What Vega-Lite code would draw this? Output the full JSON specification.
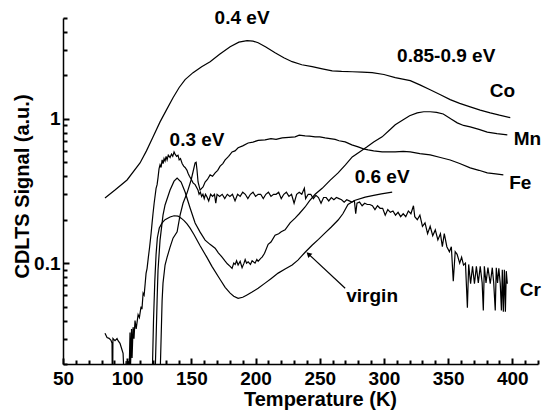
{
 "$schema": "https://vega.github.io/schema/vega-lite/v6.json",
 "width": 475,
 "height": 346,
 "autosize": {"type": "none"},
 "padding": {"left": 63, "top": 18, "right": 10, "bottom": 52},
 "config": {"view": {"stroke": null}, "font": "Liberation Sans"},
 "resolve": {"axis": {"x": "independent", "y": "independent"}},
 "datasets": {
  "curves": [
   {"series":"Co","T":82.7,"S":0.283},{"series":"Co","T":90.5,"S":0.321},{"series":"Co","T":99.9,"S":0.377},{"series":"Co","T":110,"S":0.495},{"series":"Co","T":115,"S":0.6},{"series":"Co","T":120.1,"S":0.75},{"series":"Co","T":125.6,"S":0.953},{"series":"Co","T":130.5,"S":1.15},{"series":"Co","T":135.7,"S":1.4},{"series":"Co","T":140.5,"S":1.65},{"series":"Co","T":145.1,"S":1.87},{"series":"Co","T":151.3,"S":2.09},{"series":"Co","T":158,"S":2.3},{"series":"Co","T":164.6,"S":2.49},{"series":"Co","T":172,"S":2.8},{"series":"Co","T":180.2,"S":3.16},{"series":"Co","T":187,"S":3.4},{"series":"Co","T":193.4,"S":3.48},{"series":"Co","T":198,"S":3.46},{"series":"Co","T":202,"S":3.37},{"series":"Co","T":208,"S":3.15},{"series":"Co","T":215.2,"S":2.87},{"series":"Co","T":222,"S":2.65},{"series":"Co","T":228.5,"S":2.49},{"series":"Co","T":236,"S":2.37},{"series":"Co","T":244.1,"S":2.3},{"series":"Co","T":252,"S":2.22},{"series":"Co","T":259.7,"S":2.15},{"series":"Co","T":267,"S":2.13},{"series":"Co","T":275.3,"S":2.12},{"series":"Co","T":283,"S":2.11},{"series":"Co","T":290.8,"S":2.09},{"series":"Co","T":300,"S":2.03},{"series":"Co","T":308.8,"S":1.93},{"series":"Co","T":320.5,"S":1.84},{"series":"Co","T":328,"S":1.72},{"series":"Co","T":336,"S":1.59},{"series":"Co","T":344,"S":1.47},{"series":"Co","T":351.6,"S":1.36},{"series":"Co","T":359,"S":1.28},{"series":"Co","T":367.2,"S":1.21},{"series":"Co","T":375,"S":1.15},{"series":"Co","T":382.8,"S":1.1},{"series":"Co","T":390,"S":1.06},{"series":"Co","T":398.4,"S":1.02},

   {"series":"Mn","T":121.7,"S":0.016},{"series":"Mn","T":123.3,"S":0.0553},{"series":"Mn","T":124.0,"S":0.089},{"series":"Mn","T":125.6,"S":0.1445},{"series":"Mn","T":127.9,"S":0.215},{"series":"Mn","T":129.5,"S":0.253},{"series":"Mn","T":133.4,"S":0.321},{"series":"Mn","T":136.5,"S":0.37},{"series":"Mn","T":138.9,"S":0.389},{"series":"Mn","T":142.0,"S":0.365},{"series":"Mn","T":145.1,"S":0.311},{"series":"Mn","T":149.0,"S":0.241},{"series":"Mn","T":152.9,"S":0.19},{"series":"Mn","T":156.8,"S":0.164},{"series":"Mn","T":160.7,"S":0.1445},{"series":"Mn","T":164.5,"S":0.135},{"series":"Mn","T":168.5,"S":0.127},{"series":"Mn","T":171,"S":0.118},{"series":"Mn","T":173.9,"S":0.11},{"series":"Mn","T":176,"S":0.104},{"series":"Mn","T":178,"S":0.099},{"series":"Mn","T":180.2,"S":0.095},{"series":"Mn","T":181.7,"S":0.092},{"series":"Mn","T":183,"S":0.1},{"series":"Mn","T":184.1,"S":0.098},{"series":"Mn","T":185.2,"S":0.104},{"series":"Mn","T":186.4,"S":0.097},{"series":"Mn","T":188,"S":0.103},{"series":"Mn","T":189.5,"S":0.093},{"series":"Mn","T":191,"S":0.1},{"series":"Mn","T":191.9,"S":0.106},{"series":"Mn","T":193,"S":0.1},{"series":"Mn","T":194.2,"S":0.102},{"series":"Mn","T":196,"S":0.098},{"series":"Mn","T":197.3,"S":0.104},{"series":"Mn","T":199.6,"S":0.1},{"series":"Mn","T":201,"S":0.106},{"series":"Mn","T":202,"S":0.103},{"series":"Mn","T":204,"S":0.108},{"series":"Mn","T":205.1,"S":0.11},{"series":"Mn","T":207,"S":0.117},{"series":"Mn","T":209.8,"S":0.135},{"series":"Mn","T":212,"S":0.14},{"series":"Mn","T":215.2,"S":0.156},{"series":"Mn","T":218,"S":0.16},{"series":"Mn","T":220,"S":0.165},{"series":"Mn","T":223,"S":0.17},{"series":"Mn","T":226.9,"S":0.19},{"series":"Mn","T":230.8,"S":0.205},{"series":"Mn","T":234,"S":0.22},{"series":"Mn","T":238.6,"S":0.245},{"series":"Mn","T":242,"S":0.27},{"series":"Mn","T":246.4,"S":0.3},{"series":"Mn","T":251.9,"S":0.33},{"series":"Mn","T":258,"S":0.375},{"series":"Mn","T":264.3,"S":0.422},{"series":"Mn","T":270,"S":0.48},{"series":"Mn","T":275.3,"S":0.545},{"series":"Mn","T":281,"S":0.59},{"series":"Mn","T":286.9,"S":0.64},{"series":"Mn","T":292,"S":0.69},{"series":"Mn","T":298.6,"S":0.75},{"series":"Mn","T":304,"S":0.83},{"series":"Mn","T":308.8,"S":0.91},{"series":"Mn","T":315,"S":0.985},{"series":"Mn","T":320,"S":1.05},{"series":"Mn","T":325.9,"S":1.1},{"series":"Mn","T":331,"S":1.12},{"series":"Mn","T":336,"S":1.12},{"series":"Mn","T":341,"S":1.11},{"series":"Mn","T":346.2,"S":1.08},{"series":"Mn","T":352,"S":1.0},{"series":"Mn","T":357.1,"S":0.938},{"series":"Mn","T":362,"S":0.9},{"series":"Mn","T":367.2,"S":0.88},{"series":"Mn","T":374,"S":0.845},{"series":"Mn","T":380.5,"S":0.81},{"series":"Mn","T":388,"S":0.79},{"series":"Mn","T":396.1,"S":0.774},

   {"series":"Fe","T":125.6,"S":0.016},{"series":"Fe","T":127.2,"S":0.055},{"series":"Fe","T":127.9,"S":0.0727},{"series":"Fe","T":129.5,"S":0.097},{"series":"Fe","T":131.1,"S":0.11},{"series":"Fe","T":133.4,"S":0.129},{"series":"Fe","T":135.7,"S":0.149},{"series":"Fe","T":138.9,"S":0.165},{"series":"Fe","T":141.2,"S":0.215},{"series":"Fe","T":143.5,"S":0.26},{"series":"Fe","T":146.6,"S":0.306},{"series":"Fe","T":149.8,"S":0.377},{"series":"Fe","T":151.3,"S":0.43},{"series":"Fe","T":152.9,"S":0.495},{"series":"Fe","T":153.7,"S":0.5},{"series":"Fe","T":154.4,"S":0.44},{"series":"Fe","T":155.2,"S":0.365},{"series":"Fe","T":156.8,"S":0.321},{"series":"Fe","T":158,"S":0.33},{"series":"Fe","T":159.1,"S":0.337},{"series":"Fe","T":160.7,"S":0.365},{"series":"Fe","T":162.5,"S":0.38},{"series":"Fe","T":164.6,"S":0.409},{"series":"Fe","T":166.5,"S":0.4},{"series":"Fe","T":168.5,"S":0.422},{"series":"Fe","T":170.5,"S":0.44},{"series":"Fe","T":172.4,"S":0.47},{"series":"Fe","T":174.5,"S":0.49},{"series":"Fe","T":176.3,"S":0.519},{"series":"Fe","T":179,"S":0.55},{"series":"Fe","T":181.7,"S":0.59},{"series":"Fe","T":184,"S":0.6},{"series":"Fe","T":186.4,"S":0.63},{"series":"Fe","T":190,"S":0.65},{"series":"Fe","T":194.2,"S":0.68},{"series":"Fe","T":198,"S":0.69},{"series":"Fe","T":202,"S":0.71},{"series":"Fe","T":207.4,"S":0.715},{"series":"Fe","T":212,"S":0.73},{"series":"Fe","T":216,"S":0.72},{"series":"Fe","T":220.7,"S":0.738},{"series":"Fe","T":226,"S":0.745},{"series":"Fe","T":230.8,"S":0.75},{"series":"Fe","T":234,"S":0.77},{"series":"Fe","T":238.6,"S":0.762},{"series":"Fe","T":242,"S":0.76},{"series":"Fe","T":246.4,"S":0.75},{"series":"Fe","T":250,"S":0.75},{"series":"Fe","T":254.2,"S":0.738},{"series":"Fe","T":258,"S":0.73},{"series":"Fe","T":262,"S":0.72},{"series":"Fe","T":265,"S":0.705},{"series":"Fe","T":269.8,"S":0.692},{"series":"Fe","T":275,"S":0.66},{"series":"Fe","T":279.9,"S":0.64},{"series":"Fe","T":284,"S":0.62},{"series":"Fe","T":287.7,"S":0.61},{"series":"Fe","T":292,"S":0.6},{"series":"Fe","T":298.6,"S":0.59},{"series":"Fe","T":304,"S":0.59},{"series":"Fe","T":308.8,"S":0.59},{"series":"Fe","T":315,"S":0.595},{"series":"Fe","T":320.5,"S":0.59},{"series":"Fe","T":328,"S":0.575},{"series":"Fe","T":336,"S":0.562},{"series":"Fe","T":344,"S":0.54},{"series":"Fe","T":351.6,"S":0.519},{"series":"Fe","T":359,"S":0.49},{"series":"Fe","T":367.2,"S":0.457},{"series":"Fe","T":374,"S":0.44},{"series":"Fe","T":380.5,"S":0.422},{"series":"Fe","T":387,"S":0.415},{"series":"Fe","T":393,"S":0.409},

   {"series":"virgin","T":119.5,"S":0.016},{"series":"virgin","T":120.5,"S":0.04},{"series":"virgin","T":121.5,"S":0.075},{"series":"virgin","T":122.5,"S":0.115},{"series":"virgin","T":123.5,"S":0.15},{"series":"virgin","T":125,"S":0.175},{"series":"virgin","T":127.2,"S":0.19},{"series":"virgin","T":129.5,"S":0.2},{"series":"virgin","T":133.4,"S":0.209},{"series":"virgin","T":136.5,"S":0.213},{"series":"virgin","T":139.6,"S":0.212},{"series":"virgin","T":142,"S":0.205},{"series":"virgin","T":144.3,"S":0.197},{"series":"virgin","T":146.6,"S":0.187},{"series":"virgin","T":149,"S":0.175},{"series":"virgin","T":152,"S":0.158},{"series":"virgin","T":156.8,"S":0.132},{"series":"virgin","T":162,"S":0.11},{"series":"virgin","T":166,"S":0.095},{"series":"virgin","T":172.4,"S":0.077},{"series":"virgin","T":176.3,"S":0.068},{"series":"virgin","T":180.2,"S":0.062},{"series":"virgin","T":183,"S":0.059},{"series":"virgin","T":186.4,"S":0.057},{"series":"virgin","T":190,"S":0.058},{"series":"virgin","T":193,"S":0.06},{"series":"virgin","T":197.3,"S":0.063},{"series":"virgin","T":202,"S":0.067},{"series":"virgin","T":207.4,"S":0.0727},{"series":"virgin","T":212,"S":0.078},{"series":"virgin","T":217.6,"S":0.0853},{"series":"virgin","T":223,"S":0.091},{"series":"virgin","T":228.5,"S":0.097},{"series":"virgin","T":233,"S":0.105},{"series":"virgin","T":238.6,"S":0.119},{"series":"virgin","T":244,"S":0.133},{"series":"virgin","T":249,"S":0.146},{"series":"virgin","T":254.2,"S":0.162},{"series":"virgin","T":259,"S":0.178},{"series":"virgin","T":264.3,"S":0.199},{"series":"virgin","T":268,"S":0.22},{"series":"virgin","T":272,"S":0.255},{"series":"virgin","T":277,"S":0.272},{"series":"virgin","T":285.4,"S":0.287},{"series":"virgin","T":292,"S":0.295},{"series":"virgin","T":298,"S":0.302},{"series":"virgin","T":306.4,"S":0.311},

   {"series":"Cr","T":82.7,"S":0.0327},{"series":"Cr","T":84.3,"S":0.0305},{"series":"Cr","T":85.9,"S":0.0301},{"series":"Cr","T":87.4,"S":0.0292},{"series":"Cr","T":88.2,"S":0.0278},{"series":"Cr","T":88.4,"S":0.015},{"series":"Cr","T":88.7,"S":0.015},{"series":"Cr","T":88.9,"S":0.03},{"series":"Cr","T":90.5,"S":0.029},{"series":"Cr","T":92.1,"S":0.03},{"series":"Cr","T":92.9,"S":0.029},{"series":"Cr","T":94.4,"S":0.0278},{"series":"Cr","T":96.0,"S":0.025},{"series":"Cr","T":96.8,"S":0.0237},{"series":"Cr","T":97.5,"S":0.017},{"series":"Cr","T":98.5,"S":0.017},{"series":"Cr","T":99.2,"S":0.021},{"series":"Cr","T":99.6,"S":0.017},{"series":"Cr","T":100.7,"S":0.021},{"series":"Cr","T":101.5,"S":0.017},{"series":"Cr","T":102.2,"S":0.033},{"series":"Cr","T":102.6,"S":0.019},{"series":"Cr","T":103.4,"S":0.035},{"series":"Cr","T":103.8,"S":0.022},{"series":"Cr","T":104.6,"S":0.036},{"series":"Cr","T":105.3,"S":0.03},{"series":"Cr","T":106.1,"S":0.04},{"series":"Cr","T":107.0,"S":0.035},{"series":"Cr","T":108.5,"S":0.044},{"series":"Cr","T":109.5,"S":0.042},{"series":"Cr","T":110.8,"S":0.05},{"series":"Cr","T":111.5,"S":0.048},{"series":"Cr","T":112.4,"S":0.062},{"series":"Cr","T":113.2,"S":0.06},{"series":"Cr","T":114.0,"S":0.072},{"series":"Cr","T":114.7,"S":0.085},{"series":"Cr","T":115.5,"S":0.092},{"series":"Cr","T":116.5,"S":0.11},{"series":"Cr","T":117.5,"S":0.13},{"series":"Cr","T":118.6,"S":0.16},{"series":"Cr","T":119.4,"S":0.19},{"series":"Cr","T":120.1,"S":0.22},{"series":"Cr","T":121.0,"S":0.26},{"series":"Cr","T":122.5,"S":0.33},{"series":"Cr","T":123.3,"S":0.35},{"series":"Cr","T":124.0,"S":0.39},{"series":"Cr","T":124.8,"S":0.45},{"series":"Cr","T":125.6,"S":0.48},{"series":"Cr","T":126.4,"S":0.46},{"series":"Cr","T":127.2,"S":0.52},{"series":"Cr","T":128.0,"S":0.49},{"series":"Cr","T":128.7,"S":0.53},{"series":"Cr","T":129.5,"S":0.51},{"series":"Cr","T":130.3,"S":0.55},{"series":"Cr","T":131.1,"S":0.52},{"series":"Cr","T":132.0,"S":0.56},{"series":"Cr","T":133.4,"S":0.54},{"series":"Cr","T":134.5,"S":0.57},{"series":"Cr","T":135.5,"S":0.55},{"series":"Cr","T":136.5,"S":0.59},{"series":"Cr","T":137.3,"S":0.57},{"series":"Cr","T":138.5,"S":0.55},{"series":"Cr","T":139.6,"S":0.56},{"series":"Cr","T":140.5,"S":0.52},{"series":"Cr","T":141.5,"S":0.53},{"series":"Cr","T":142.8,"S":0.49},{"series":"Cr","T":144.0,"S":0.47},{"series":"Cr","T":145.1,"S":0.46},{"series":"Cr","T":146.6,"S":0.44},{"series":"Cr","T":147.4,"S":0.42},{"series":"Cr","T":148.5,"S":0.4},{"series":"Cr","T":150.0,"S":0.38},{"series":"Cr","T":151.3,"S":0.36},{"series":"Cr","T":152.9,"S":0.35},{"series":"Cr","T":154.4,"S":0.33},{"series":"Cr","T":155.2,"S":0.32},{"series":"Cr","T":156.0,"S":0.3},{"series":"Cr","T":157.0,"S":0.31},{"series":"Cr","T":158.0,"S":0.29},{"series":"Cr","T":159.0,"S":0.3},{"series":"Cr","T":160.0,"S":0.28},{"series":"Cr","T":161.0,"S":0.3},{"series":"Cr","T":162.0,"S":0.29},{"series":"Cr","T":163.5,"S":0.27},{"series":"Cr","T":165.0,"S":0.3},{"series":"Cr","T":166.5,"S":0.29},{"series":"Cr","T":168.0,"S":0.3},{"series":"Cr","T":169.0,"S":0.26},{"series":"Cr","T":170.0,"S":0.3},{"series":"Cr","T":172.0,"S":0.29},{"series":"Cr","T":174.0,"S":0.3},{"series":"Cr","T":176.0,"S":0.28},{"series":"Cr","T":178.0,"S":0.3},{"series":"Cr","T":180.0,"S":0.29},{"series":"Cr","T":182.0,"S":0.3},{"series":"Cr","T":184.0,"S":0.27},{"series":"Cr","T":186.0,"S":0.3},{"series":"Cr","T":188.0,"S":0.29},{"series":"Cr","T":190.0,"S":0.31},{"series":"Cr","T":192.0,"S":0.3},{"series":"Cr","T":194.0,"S":0.28},{"series":"Cr","T":196.0,"S":0.3},{"series":"Cr","T":198.0,"S":0.31},{"series":"Cr","T":200.0,"S":0.29},{"series":"Cr","T":202.0,"S":0.3},{"series":"Cr","T":204.0,"S":0.3},{"series":"Cr","T":206.0,"S":0.28},{"series":"Cr","T":208.0,"S":0.3},{"series":"Cr","T":210.0,"S":0.31},{"series":"Cr","T":212.0,"S":0.29},{"series":"Cr","T":214.0,"S":0.3},{"series":"Cr","T":216.0,"S":0.3},{"series":"Cr","T":218.0,"S":0.31},{"series":"Cr","T":220.0,"S":0.28},{"series":"Cr","T":222.0,"S":0.3},{"series":"Cr","T":224.0,"S":0.31},{"series":"Cr","T":226.0,"S":0.29},{"series":"Cr","T":228.0,"S":0.3},{"series":"Cr","T":230.0,"S":0.26},{"series":"Cr","T":232.0,"S":0.3},{"series":"Cr","T":234.0,"S":0.31},{"series":"Cr","T":236.0,"S":0.3},{"series":"Cr","T":238.0,"S":0.33},{"series":"Cr","T":239.0,"S":0.28},{"series":"Cr","T":241.0,"S":0.3},{"series":"Cr","T":243.0,"S":0.3},{"series":"Cr","T":245.0,"S":0.28},{"series":"Cr","T":247.0,"S":0.295},{"series":"Cr","T":249.0,"S":0.285},{"series":"Cr","T":251.0,"S":0.26},{"series":"Cr","T":253.0,"S":0.285},{"series":"Cr","T":255.0,"S":0.285},{"series":"Cr","T":257.0,"S":0.27},{"series":"Cr","T":259.0,"S":0.285},{"series":"Cr","T":261.0,"S":0.275},{"series":"Cr","T":263.0,"S":0.285},{"series":"Cr","T":265.0,"S":0.28},{"series":"Cr","T":267.0,"S":0.275},{"series":"Cr","T":269.0,"S":0.265},{"series":"Cr","T":271.0,"S":0.275},{"series":"Cr","T":273.0,"S":0.27},{"series":"Cr","T":275.0,"S":0.265},{"series":"Cr","T":277.0,"S":0.27},{"series":"Cr","T":278.0,"S":0.22},{"series":"Cr","T":279.0,"S":0.26},{"series":"Cr","T":281.0,"S":0.265},{"series":"Cr","T":283.0,"S":0.25},{"series":"Cr","T":285.0,"S":0.26},{"series":"Cr","T":287.0,"S":0.255},{"series":"Cr","T":289.0,"S":0.255},{"series":"Cr","T":291.0,"S":0.25},{"series":"Cr","T":293.0,"S":0.235},{"series":"Cr","T":295.0,"S":0.25},{"series":"Cr","T":297.0,"S":0.24},{"series":"Cr","T":299.0,"S":0.24},{"series":"Cr","T":301.0,"S":0.215},{"series":"Cr","T":303.0,"S":0.235},{"series":"Cr","T":305.0,"S":0.225},{"series":"Cr","T":307.0,"S":0.23},{"series":"Cr","T":309.0,"S":0.215},{"series":"Cr","T":311.0,"S":0.225},{"series":"Cr","T":313.0,"S":0.21},{"series":"Cr","T":315.0,"S":0.22},{"series":"Cr","T":317.0,"S":0.21},{"series":"Cr","T":319.0,"S":0.23},{"series":"Cr","T":321.0,"S":0.22},{"series":"Cr","T":323.0,"S":0.25},{"series":"Cr","T":324.0,"S":0.21},{"series":"Cr","T":326.0,"S":0.2},{"series":"Cr","T":328.0,"S":0.215},{"series":"Cr","T":330.0,"S":0.18},{"series":"Cr","T":332.0,"S":0.19},{"series":"Cr","T":334.0,"S":0.16},{"series":"Cr","T":336.0,"S":0.18},{"series":"Cr","T":338.0,"S":0.155},{"series":"Cr","T":340.0,"S":0.17},{"series":"Cr","T":342.0,"S":0.145},{"series":"Cr","T":344.0,"S":0.16},{"series":"Cr","T":345.5,"S":0.13},{"series":"Cr","T":347.0,"S":0.16},{"series":"Cr","T":349.0,"S":0.13},{"series":"Cr","T":351.0,"S":0.12},{"series":"Cr","T":352.5,"S":0.13},{"series":"Cr","T":354.0,"S":0.075},{"series":"Cr","T":355.5,"S":0.12},{"series":"Cr","T":357.0,"S":0.115},{"series":"Cr","T":359.0,"S":0.1},{"series":"Cr","T":360.5,"S":0.11},{"series":"Cr","T":362.0,"S":0.097},{"series":"Cr","T":363.5,"S":0.1},{"series":"Cr","T":365.0,"S":0.049},{"series":"Cr","T":366.0,"S":0.098},{"series":"Cr","T":367.5,"S":0.072},{"series":"Cr","T":369.0,"S":0.095},{"series":"Cr","T":370.5,"S":0.072},{"series":"Cr","T":372.0,"S":0.095},{"series":"Cr","T":373.5,"S":0.073},{"series":"Cr","T":375.0,"S":0.095},{"series":"Cr","T":376.5,"S":0.073},{"series":"Cr","T":377.4,"S":0.047},{"series":"Cr","T":378.2,"S":0.095},{"series":"Cr","T":379.5,"S":0.073},{"series":"Cr","T":381.0,"S":0.093},{"series":"Cr","T":382.8,"S":0.072},{"series":"Cr","T":384.4,"S":0.093},{"series":"Cr","T":385.5,"S":0.073},{"series":"Cr","T":386.7,"S":0.047},{"series":"Cr","T":387.5,"S":0.093},{"series":"Cr","T":388.5,"S":0.073},{"series":"Cr","T":389.5,"S":0.092},{"series":"Cr","T":390.6,"S":0.072},{"series":"Cr","T":391.5,"S":0.047},{"series":"Cr","T":392.2,"S":0.09},{"series":"Cr","T":393.0,"S":0.046},{"series":"Cr","T":393.8,"S":0.09},{"series":"Cr","T":394.6,"S":0.046},{"series":"Cr","T":395.3,"S":0.088},{"series":"Cr","T":396.1,"S":0.072}
  ],
  "labels": [
   {"t":"0.4 eV","T":189.5,"S":5.0},
   {"t":"0.85-0.9 eV","T":348.5,"S":2.74},
   {"t":"Co","T":392.2,"S":1.56},
   {"t":"Mn","T":411.7,"S":0.726},
   {"t":"Fe","T":406.2,"S":0.36},
   {"t":"Cr","T":414,"S":0.065},
   {"t":"0.3 eV","T":154.4,"S":0.715},
   {"t":"0.6 eV","T":298.6,"S":0.396},
   {"t":"virgin","T":290.8,"S":0.059}
  ],
  "arrow": [{"T":269.8,"S":0.067,"T2":241.5,"S2":0.115}],
  "head": [{"T":241.2,"S":0.1155}]
 },
 "layer": [
  {
   "data": {"name": "curves"},
   "mark": {"type": "line", "color": "black", "strokeWidth": 1.2, "clip": true},
   "encoding": {
    "x": {"field": "T", "type": "quantitative",
     "scale": {"domain": [50, 420], "nice": false, "zero": false},
     "axis": {
      "orient": "bottom",
      "title": "Temperature (K)",
      "values": [50,100,150,200,250,300,350,400],
      "format": "d",
      "ticks": false,
      "labelPadding": 5,
      "grid": false,
      "domainColor": "black", "domainWidth": 1.5,
      "labelColor": "black", "labelFontSize": 19, "labelFontWeight": "bold",
      "labelFlush": false, "labelOverlap": false,
      "titleColor": "black", "titleFontSize": 20, "titleFontWeight": "bold",
      "titleX": 257, "titleY": 35, "titleBaseline": "middle"
     }
    },
    "y": {"field": "S", "type": "quantitative",
     "scale": {"type": "log", "domain": [0.02, 5], "nice": false},
     "axis": {
      "orient": "left",
      "title": "CDLTS Signal (a.u.)",
      "values": [0.1, 1],
      "labelExpr": "datum.value == 1 ? '1' : '0.1'",
      "ticks": false,
      "labelPadding": 3,
      "grid": false,
      "domainColor": "black", "domainWidth": 1.5,
      "labelColor": "black", "labelFontSize": 19, "labelFontWeight": "bold",
      "labelFlush": false, "labelOverlap": false,
      "titleColor": "black", "titleFontSize": 20, "titleFontWeight": "bold",
      "titleX": -41, "titleY": 168, "titleBaseline": "middle"
     }
    },
    "detail": {"field": "series"}
   }
  },
  {
   "data": {"name": "arrow"},
   "mark": {"type": "rule", "color": "black", "strokeWidth": 1.2},
   "encoding": {
    "x": {"field": "T", "type": "quantitative",
     "axis": {"orient": "bottom", "title": null, "labels": false, "domain": false, "grid": false,
      "values": [50,100,150,200,250,300,350,400], "offset": -6,
      "ticks": true, "tickSize": 6, "tickColor": "#000000", "tickWidth": 2}},
    "y": {"field": "S", "type": "quantitative",
     "axis": {"orient": "left", "title": null, "labels": false, "domain": false, "grid": false,
      "values": [0.1, 1], "offset": -6,
      "ticks": true, "tickSize": 6, "tickColor": "#000000", "tickWidth": 2}},
    "x2": {"field": "T2"},
    "y2": {"field": "S2"}
   }
  },
  {
   "data": {"name": "head"},
   "mark": {"type": "point", "shape": "triangle-up", "filled": true, "color": "black", "size": 35, "angle": 313, "opacity": 1},
   "encoding": {
    "x": {"field": "T", "type": "quantitative",
     "axis": {"orient": "bottom", "title": null, "labels": false, "domain": false, "grid": false,
      "values": [60,70,80,90,110,120,130,140,160,170,180,190,210,220,230,240,260,270,280,290,310,320,330,340,360,370,380,390,410,420], "offset": -4,
      "ticks": true, "tickSize": 4, "tickColor": "#000000", "tickWidth": 2}},
    "y": {"field": "S", "type": "quantitative",
     "axis": {"orient": "left", "title": null, "labels": false, "domain": false, "grid": false,
      "values": [0.02,0.03,0.04,0.05,0.06,0.07,0.08,0.09,0.2,0.3,0.4,0.5,0.6,0.7,0.8,0.9,2,3,4,5], "offset": -4,
      "ticks": true, "tickSize": 4, "tickColor": "#000000", "tickWidth": 2}}
   }
  },
  {
   "data": {"name": "labels"},
   "mark": {"type": "text", "font": "Liberation Sans", "fontWeight": "bold", "fontSize": 19, "color": "black", "align": "center", "baseline": "middle"},
   "encoding": {
    "x": {"field": "T", "type": "quantitative", "axis": null},
    "y": {"field": "S", "type": "quantitative", "axis": null},
    "text": {"field": "t"}
   }
  }
 ]
}
